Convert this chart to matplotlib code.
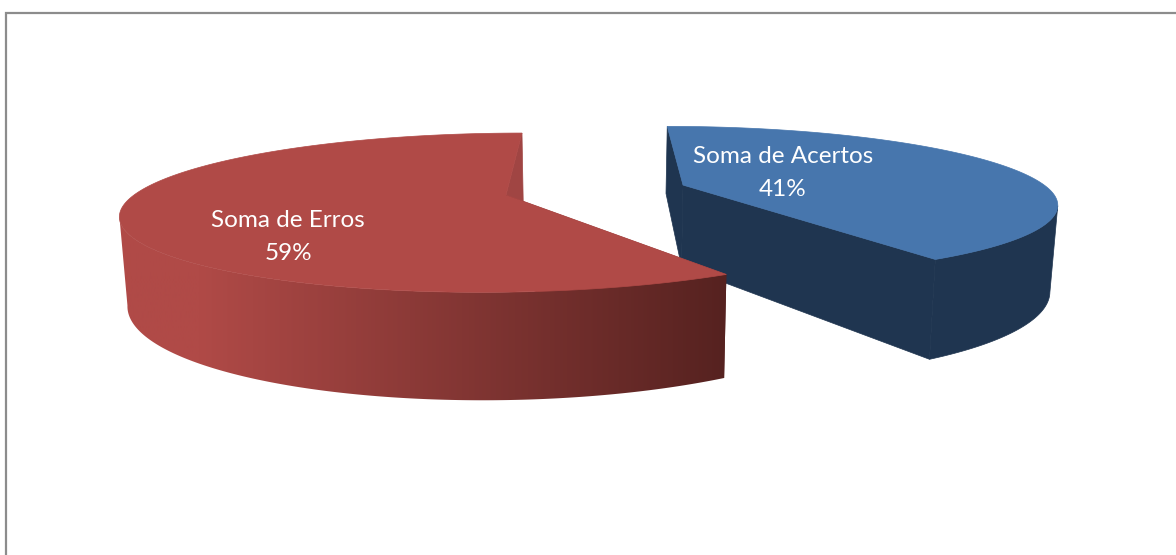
import numpy as np
import matplotlib
matplotlib.use("Agg")
import matplotlib.pyplot as plt
from matplotlib.colors import LinearSegmentedColormap

plt.rcParams['font.family'] = ['Lato', 'DejaVu Sans']

categories = ['Soma de Acertos', 'Soma de Erros']
values = [41.2, 58.8]

# perspective of the 3D pie, in pixels of the picture
vanish_x, vanish_y = 594, -146
depth_scale = 341
radius = 372
flat = 0.222
height = 84
bottom_shrink = 0.983


def project(x, y, drop=0.0):
    s = 1 / (1 + y)
    shrink = 1 - (1 - bottom_shrink) * (drop / height)
    return vanish_x + x * s * shrink, vanish_y + (depth_scale + drop) * s


def rim(cx, cy, t0, t1, drop=0.0):
    t = np.radians(np.linspace(t0, t1, 200))
    return project(cx + radius * np.sin(t), cy + flat * np.cos(t), drop)


def wall(cx, cy, t0, t1):
    x1, y1 = rim(cx, cy, t0, t1)
    x2, y2 = rim(cx, cy, t0, t1, height)
    return np.r_[x1, x2[::-1]], np.r_[y1, y2[::-1]]


def cut(cx, cy, t):
    # flat side of a slice, from the centre to the rim
    xa, ya = project(cx, cy)
    xb, yb = project(cx, cy, height)
    xc, yc = rim(cx, cy, t, t, height)
    xd, yd = rim(cx, cy, t, t)
    return [xa, xd[0], xc[0], xb], [ya, yd[0], yc[0], yb]


def top(cx, cy, t0, t1):
    x, y = rim(cx, cy, t0, t1)
    xa, ya = project(cx, cy)
    return np.r_[xa, x], np.r_[ya, y]


def side_angle(cx, cy, t0, t1, sign):
    # angle where the rim turns round, the outer wall stops being seen there
    t = np.linspace(t0, t1, 200)
    x, _ = rim(cx, cy, t0, t1)
    return t[np.argmax(sign * x)]


fig = plt.figure(figsize=(11.76, 5.55), dpi=100)
ax = fig.add_axes([0, 0, 1, 1])
ax.axis('off')

# chart frame
ax.plot([5.5, 5.5, 1176], [555, 12.5, 12.5], color='#8c8c8c', lw=1.6, solid_joinstyle='miter')

split = 360 * values[0] / sum(values)

# blue slice
bx, by = 91.7, 0.03
navy = '#1f3550'
ax.fill(*cut(bx, by, 0), color=navy, lw=0.5)
ax.fill(*cut(bx, by, split), color=navy, lw=0.5)
ax.fill(*wall(bx, by, side_angle(bx, by, 0, split, 1), split), color=navy, lw=0.5)
ax.fill(*top(bx, by, 0, split), color='#4776ad', lw=0.5)

# red slice
rx, ry = -88, 0.0
ax.fill(*cut(rx, ry, 360), color='#a04543', lw=0.5)
wx, wy = wall(rx, ry, split, side_angle(rx, ry, split, 360, -1))
outer = ax.fill(wx, wy, color='none', lw=0)[0]
shade = LinearSegmentedColormap.from_list('shade', [(0, '#b04a47'), (0.13, '#b04a47'), (1, '#562220')])
gradient = ax.imshow(np.linspace(0, 1, 400)[None, :], extent=[119, 727, 555, 0], cmap=shade,
                     aspect='auto', zorder=1.5)
gradient.set_clip_path(outer)
ax.fill(*cut(rx, ry, split), color='#562220', lw=0, zorder=1.4)
ax.fill(*top(rx, ry, split, 360), color='#b04a47', lw=0.5, zorder=2)

# data labels
label_pos = [(783, 173), (288, 237)]
for name, val, pos in zip(categories, values, label_pos):
    ax.text(pos[0], pos[1], name + '\n' + str(round(val)) + '%', color='white', fontsize=17.5,
            ha='center', va='center', linespacing=1.66, zorder=3)

ax.set_xlim(0, 1176)
ax.set_ylim(555, 0)
fig.savefig('out.png', dpi=100)
